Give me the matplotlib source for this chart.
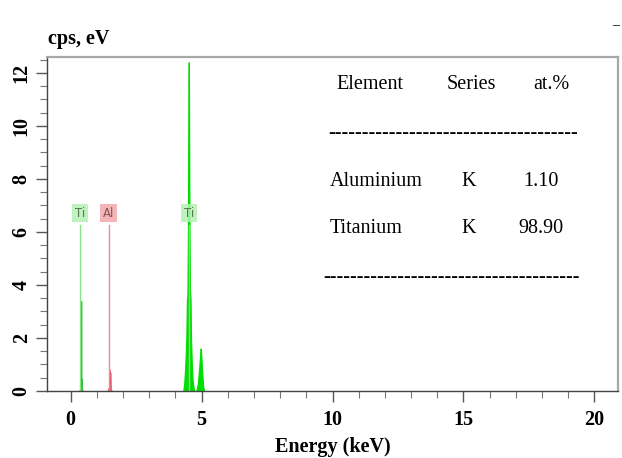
import matplotlib
matplotlib.use("Agg")
import matplotlib.pyplot as plt
from matplotlib.ticker import MultipleLocator

# spectrum pieces (energy in keV, counts in cps/eV)
ti_l_energy = [0.30, 0.36, 0.38, 0.39, 0.40, 0.41, 0.42, 0.43, 0.44, 0.47]
ti_l_cps = [0.0, 0.05, 0.35, 0.77, 0.30, 3.4, 0.25, 0.45, 0.10, 0.0]

al_energy = [1.40, 1.46, 1.48, 1.50, 1.51, 1.52, 1.54, 1.58]
al_cps = [0.0, 0.15, 0.30, 0.80, 0.30, 0.70, 0.10, 0.0]

ti_k_energy = [4.30, 4.34, 4.38, 4.42, 4.44, 4.46, 4.48, 4.50, 4.51, 4.52,
               4.53, 4.54, 4.56, 4.58, 4.60, 4.63, 4.66, 4.70, 4.72,
               4.80, 4.86, 4.92, 4.96, 4.98, 5.02, 5.06, 5.10]
ti_k_cps = [0.0, 0.3, 1.0, 2.0, 3.4, 3.6, 6.0, 11.8, 12.4, 11.8,
            9.0, 6.5, 3.8, 3.5, 2.0, 1.0, 0.4, 0.1, 0.0,
            0.0, 0.3, 1.0, 1.6, 1.55, 0.8, 0.2, 0.0]

# element markers
marker_names = ["Ti", "Al", "Ti"]
marker_energy = [0.36, 1.45, 4.52]
marker_top = [6.25, 6.25, 6.25]
marker_line_colors = ["#86e486", "#e88a98", "#86e486"]
marker_box_colors = ["#b4f0b4", "#f4a8ac", "#b4f0b4"]
marker_text_colors = ["#557755", "#885555", "#557755"]

# quantification table
table_header = ["Element", "Series", "at.%"]
table_elements = ["Aluminium", "Titanium"]
table_series = ["K", "K"]
table_atpct = ["1.10", "98.90"]

W, H = 622, 458
fig = plt.figure(figsize=(W / 100, H / 100), dpi=100)
ax = fig.add_axes([47 / W, 1 - 391 / H, (618 - 47) / W, (391 - 57) / H])

green = "#00dd00"
ax.fill_between(ti_l_energy, ti_l_cps, color="#22bb22", lw=0.6, alpha=0.9)
ax.fill_between(al_energy, al_cps, color="#e05060", lw=0.6, alpha=0.9)
ax.fill_between(ti_k_energy, ti_k_cps, color=green, lw=0.8)

for name, e, top, lc, bc, tc in zip(marker_names, marker_energy, marker_top,
                                    marker_line_colors, marker_box_colors,
                                    marker_text_colors):
    ax.plot([e, e], [0, top], color=lc, lw=1, zorder=1)
    ax.text(e, top + 0.45, name, ha="center", va="center", fontsize=8.5,
            family="DejaVu Sans", color=tc,
            bbox=dict(boxstyle="square,pad=0.22", fc=bc, ec="none", alpha=0.85))

ax.set_xlim(-0.9, 20.9)
ax.set_ylim(0, 12.6)
ax.xaxis.set_major_locator(MultipleLocator(5))
ax.xaxis.set_minor_locator(MultipleLocator(1))
ax.yaxis.set_major_locator(MultipleLocator(2))
ax.yaxis.set_minor_locator(MultipleLocator(0.5))

serif = "Liberation Serif"
ax.tick_params(which="major", length=8, width=1, color="#555555")
ax.tick_params(which="minor", length=5, width=0.8, color="#777777")
ax.tick_params(axis="x", which="major", pad=6)
ax.tick_params(axis="y", which="major", pad=3)
for lab in ax.get_xticklabels():
    lab.set_family(serif)
    lab.set_weight("bold")
    lab.set_fontsize(14.5)
for lab in ax.get_yticklabels():
    lab.set_family(serif)
    lab.set_weight("bold")
    lab.set_fontsize(14.5)
    lab.set_rotation(90)
    lab.set_va("center")

for s in ["top", "right"]:
    ax.spines[s].set_color("#a8a8a8")
    ax.spines[s].set_linewidth(1.6)
for s in ["left", "bottom"]:
    ax.spines[s].set_color("#444444")
    ax.spines[s].set_linewidth(1.0)

ax.set_xlabel("Energy (keV)", family=serif, weight="bold", fontsize=14.5,
              labelpad=5)
fig.text(48 / W, 1 - 39 / H, "cps, eV", family=serif, weight="bold",
         fontsize=14.5, ha="left", va="center")
fig.text(612 / W, 1 - 26 / H, "\u2013", family=serif, fontsize=10,
         ha="left", va="center")


def px(x, y):
    return x / W, 1 - y / H


tab = dict(family=serif, fontsize=14.5, va="center")
fig.text(*px(370, 85), table_header[0], ha="center", **tab)
fig.text(*px(471, 85), table_header[1], ha="center", **tab)
fig.text(*px(551, 85), table_header[2], ha="center", **tab)
fig.text(*px(453, 134), "-" * 37, ha="center", **tab)
for i, (el, se, at) in enumerate(zip(table_elements, table_series,
                                     table_atpct)):
    y = 181 + 47 * i
    fig.text(*px(330, y), el, ha="left", **tab)
    fig.text(*px(469, y), se, ha="center", **tab)
    fig.text(*px(541, y), at, ha="center", **tab)
fig.text(*px(451, 278), "-" * 38, ha="center", **tab)

fig.savefig("out.png", dpi=100)
